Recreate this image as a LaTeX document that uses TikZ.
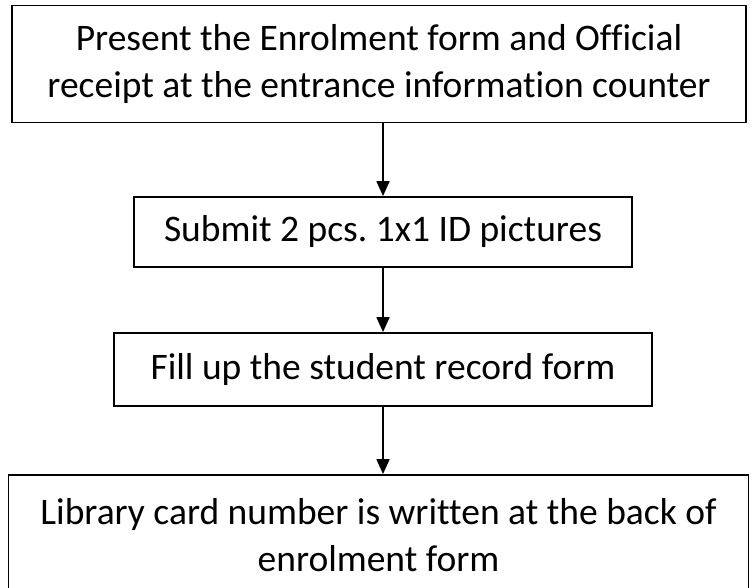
\documentclass[tikz,border=0pt]{standalone}
\usepackage{fontspec}
\setmainfont{Carlito}[Ligatures=NoCommon]
\usetikzlibrary{arrows.meta}

\tikzset{
  stepbox/.style={draw, line width=1.8pt, inner sep=0pt, align=center,
    font=\fontsize{37.5}{47}\selectfont},
  flow/.style={line width=1.8pt, -{Triangle[length=15pt,width=13pt]}}
}

\begin{document}
\frenchspacing
\begin{tikzpicture}[x=1pt,y=1pt]
\useasboundingbox (0,0) rectangle (752,-588);

\node[stepbox, minimum width=734pt, minimum height=117pt] (present) at (379,-64)
  {Present the Enrolment form and Official\\receipt at the entrance information counter};
\node[stepbox, minimum width=498pt, minimum height=70pt] (submit) at (383,-232)
  {Submit 2 pcs. 1x1 ID pictures};
\node[stepbox, minimum width=538pt, minimum height=73pt] (record) at (383,-369.5)
  {Fill up the student record form};
\node[stepbox, minimum width=740pt, minimum height=120pt] (card) at (378.5,-535)
  {Library card number is written at the back of\\enrolment form};

\draw[flow] (present.south -| submit.north) -- (submit.north);
\draw[flow] (submit.south) -- (record.north);
\draw[flow] (record.south) -- (record.south |- card.north);
\end{tikzpicture}
\end{document}
